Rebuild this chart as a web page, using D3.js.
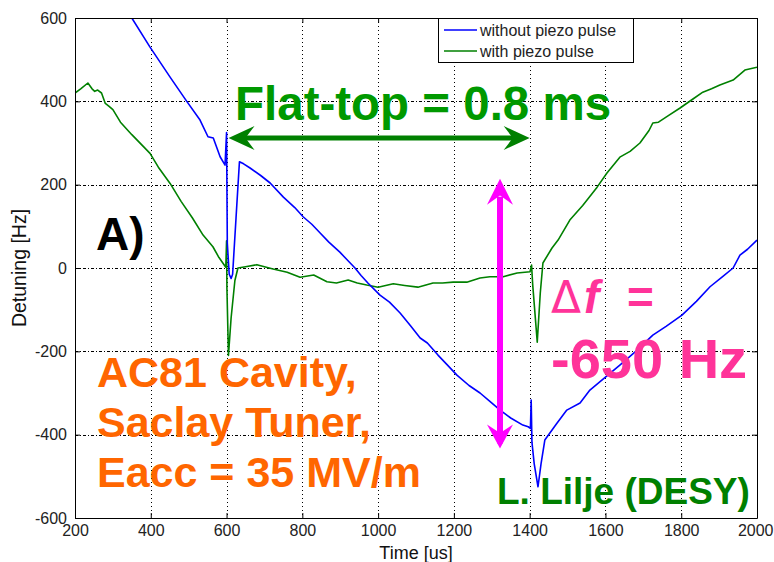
<!DOCTYPE html>
<html>
<head>
<meta charset="utf-8">
<script src="https://cdn.jsdelivr.net/npm/d3@7"></script>
<style>
  html, body { margin: 0; padding: 0; background: #fff; }
  svg { display: block; font-family: "Liberation Sans", Arial, sans-serif; }
</style>
</head>
<body>
<svg id="chart" width="774" height="562"></svg>
<script>
// Detuning traces during the RF pulse, time in microseconds, detuning in Hz
const timeWithout = [320, 350, 398, 451, 495, 530, 551, 565, 583, 596, 600, 602, 607, 612, 616, 625, 634, 645, 662, 690, 715, 750, 780, 802, 825, 847, 870, 899, 920, 939, 955, 973, 1005, 1030, 1058, 1085, 1111, 1130, 1158, 1180, 1208, 1240, 1269, 1295, 1322, 1350, 1382, 1396, 1402, 1404, 1406, 1412, 1422, 1430, 1440, 1470, 1498, 1533, 1559, 1600, 1638, 1680, 1725, 1760, 1802, 1840, 1876, 1910, 1937, 1955, 1975, 2000];
const detuningWithout = [645, 600, 530, 458, 400, 355, 315, 312, 267, 247, 325, 60, -15, -25, -15, 120, 255, 250, 240, 222, 204, 170, 145, 123, 105, 84, 62, 38, 18, 0, -18, -36, -65, -82, -108, -138, -168, -180, -209, -230, -257, -282, -300, -320, -341, -360, -377, -381, -385, -317, -418, -470, -525, -470, -413, -375, -341, -324, -293, -262, -233, -200, -161, -140, -113, -80, -45, -20, 0, 31, 45, 67];

const timeWith = [200, 215, 234, 245, 252, 260, 270, 280, 290, 300, 320, 350, 398, 420, 451, 480, 510, 538, 564, 580, 598, 600, 601, 605, 612, 622, 630, 650, 680, 720, 760, 794, 830, 865, 890, 921, 945, 970, 1000, 1020, 1040, 1070, 1105, 1145, 1170, 1198, 1234, 1269, 1295, 1330, 1367, 1401, 1405, 1408, 1420, 1428, 1435, 1459, 1475, 1506, 1540, 1578, 1604, 1638, 1665, 1691, 1715, 1725, 1740, 1765, 1797, 1830, 1857, 1880, 1902, 1937, 1968, 2000];
const detuningWith = [420, 430, 444, 430, 424, 427, 420, 395, 388, 380, 350, 320, 275, 242, 203, 160, 120, 79, 51, 25, 2, 65, -50, -210, -120, -30, 0, 3, 8, -2, -10, -22, -17, -33, -36, -29, -36, -41, -46, -42, -38, -42, -46, -36, -36, -34, -34, -24, -21, -21, -12, -9, 7, -40, -178, -60, 12, 48, 67, 115, 150, 194, 228, 266, 280, 300, 330, 348, 350, 365, 384, 405, 422, 430, 439, 451, 475, 482];

const xTicks = [200, 400, 600, 800, 1000, 1200, 1400, 1600, 1800, 2000];
const yTicks = [-600, -400, -200, 0, 200, 400, 600];
const seriesNames = ["without piezo pulse", "with piezo pulse"];
const seriesColors = ["#0000ff", "#008000"];

// Annotation values
const flatTop = [600, 1400];          // flat-top window, us
const deltaSpan = [200, -450];        // extent of the detuning arrow, Hz

const svg = d3.select("#chart");
const pLeft = 75, pRight = 757, pTop = 18, pBottom = 518;

const x = d3.scaleLinear().domain([200, 2000]).range([pLeft, pRight]);
const y = d3.scaleLinear().domain([-600, 600]).range([pBottom, pTop]);
const plain = d => String(d);   // plain integers with an ASCII hyphen

// Grid
const grid = svg.append("g").attr("stroke", "#000").attr("stroke-width", 1);
xTicks.slice(1, -1).forEach(t => {
  grid.append("line")
    .attr("x1", Math.round(x(t)) + 0.5).attr("x2", Math.round(x(t)) + 0.5)
    .attr("y1", pTop).attr("y2", pBottom)
    .attr("stroke-dasharray", "1,3");
});
yTicks.slice(1, -1).forEach(v => {
  grid.append("line")
    .attr("x1", pLeft).attr("x2", pRight)
    .attr("y1", Math.round(y(v)) + 0.5).attr("y2", Math.round(y(v)) + 0.5)
    .attr("stroke-dasharray", "3,2,1,2");
});

// Clip region for the traces
svg.append("clipPath").attr("id", "plotClip")
  .append("rect").attr("x", pLeft).attr("y", pTop).attr("width", pRight - pLeft).attr("height", pBottom - pTop);

const line = d3.line().x(d => x(d[0])).y(d => y(d[1]));
const traces = svg.append("g").attr("clip-path", "url(#plotClip)");
traces.append("path")
  .datum(timeWith.map((t, i) => [t, detuningWith[i]]))
  .attr("d", line).attr("fill", "none").attr("stroke", seriesColors[1]).attr("stroke-width", 1.6)
  .attr("stroke-linejoin", "round");
traces.append("path")
  .datum(timeWithout.map((t, i) => [t, detuningWithout[i]]))
  .attr("d", line).attr("fill", "none").attr("stroke", seriesColors[0]).attr("stroke-width", 1.6)
  .attr("stroke-linejoin", "round");

// Axes box with inward ticks
const xBottom = d3.axisBottom(x).tickValues(xTicks).tickFormat(plain).tickSizeInner(-5).tickSizeOuter(0).tickPadding(7);
const yLeft = d3.axisLeft(y).tickValues(yTicks).tickFormat(plain).tickSizeInner(-5).tickSizeOuter(0).tickPadding(8);
const xTop = d3.axisTop(x).tickValues(xTicks).tickSizeInner(-5).tickSizeOuter(0).tickFormat("");
const yRight = d3.axisRight(y).tickValues(yTicks).tickSizeInner(-5).tickSizeOuter(0).tickFormat("");

function styleAxis(g) {
  g.selectAll("path").attr("stroke", "#000");
  g.selectAll("line").attr("stroke", "#000");
  g.selectAll("text").attr("fill", "#222").style("font-size", "16px")
    .style("font-family", "'Liberation Sans', Arial, sans-serif");
}
const gx = svg.append("g").attr("transform", `translate(0,${pBottom})`).call(xBottom).call(styleAxis);
// keep the last label inside the page edge
gx.selectAll(".tick").filter(d => d === xTicks[xTicks.length - 1]).select("text")
  .attr("text-anchor", "end").attr("x", 773 - pRight);
svg.append("g").attr("transform", `translate(${pLeft},0)`).call(yLeft).call(styleAxis);
svg.append("g").attr("transform", `translate(0,${pTop})`).call(xTop).call(styleAxis);
svg.append("g").attr("transform", `translate(${pRight},0)`).call(yRight).call(styleAxis);

// Axis titles
svg.append("text").attr("x", (pLeft + pRight) / 2).attr("y", 559).attr("text-anchor", "middle")
  .style("font-size", "18px").attr("fill", "#111").text("Time [us]");
svg.append("text").attr("transform", `translate(26,${(pTop + pBottom) / 2}) rotate(-90)`)
  .attr("text-anchor", "middle").style("font-size", "19.5px").attr("fill", "#111").text("Detuning [Hz]");

// Legend
const legend = svg.append("g");
legend.append("rect").attr("x", 438.5).attr("y", 18.5).attr("width", 195).attr("height", 44)
  .attr("fill", "#fff").attr("stroke", "#000");
seriesNames.forEach((name, i) => {
  const ly = 30 + i * 21;
  legend.append("line").attr("x1", 444).attr("x2", 477).attr("y1", ly).attr("y2", ly)
    .attr("stroke", seriesColors[i]).attr("stroke-width", 1.6);
  legend.append("text").attr("x", 480).attr("y", ly + 6).style("font-size", "16px")
    .attr("fill", "#222").text(name);
});

// Arrow helper: filled triangular heads on a thick shaft
function arrowHead(g, tipX, tipY, dirX, dirY, len, halfW, color) {
  const bx = tipX - dirX * len, by = tipY - dirY * len;
  const px = -dirY, py = dirX;
  const notch = len * 0.35;
  const nx = tipX - dirX * (len - notch), ny = tipY - dirY * (len - notch);
  g.append("path")
    .attr("d", `M${tipX},${tipY} L${bx + px * halfW},${by + py * halfW} L${nx},${ny} L${bx - px * halfW},${by - py * halfW} Z`)
    .attr("fill", color);
}

// Flat-top double arrow
const ann = svg.append("g");
const fy = 138;
ann.append("line").attr("x1", x(flatTop[0]) + 10).attr("x2", x(flatTop[1]) - 10)
  .attr("y1", fy).attr("y2", fy).attr("stroke", "#008000").attr("stroke-width", 5);
arrowHead(ann, x(flatTop[0]) + 2, fy, -1, 0, 26, 12, "#008000");
arrowHead(ann, x(flatTop[1]), fy, 1, 0, 26, 12, "#008000");

// Detuning span double arrow
const ax = 500;
ann.append("line").attr("x1", ax).attr("x2", ax)
  .attr("y1", y(deltaSpan[0]) + 12).attr("y2", y(deltaSpan[1]) - 12)
  .attr("stroke", "#ff00ff").attr("stroke-width", 6);
arrowHead(ann, ax, y(deltaSpan[0]) - 6, 0, -1, 26, 13, "#ff00ff");
arrowHead(ann, ax, y(deltaSpan[1]) - 7, 0, 1, 24, 13, "#ff00ff");

// Text annotations
ann.append("text").attr("x", 235).attr("y", 120).style("font-size", "47.5px").style("font-weight", "bold")
  .attr("fill", "#009900").text("Flat-top = 0.8 ms");
ann.append("text").attr("x", 96).attr("y", 250).style("font-size", "46px").style("font-weight", "bold")
  .attr("fill", "#000").text("A)");
["AC81 Cavity,", "Saclay Tuner,", "Eacc = 35 MV/m"].forEach((s, i) => {
  ann.append("text").attr("x", 97).attr("y", 387 + i * 50).style("font-size", "43px")
    .style("font-weight", "bold").attr("fill", "#ff6600").text(s);
});
ann.append("text").attr("x", 551).attr("y", 313).style("font-size", "44px")
  .style("font-family", "'DejaVu Sans', sans-serif").attr("fill", "#ff3399").text("Δ");
ann.append("text").attr("x", 584).attr("y", 313).style("font-size", "46px")
  .style("font-weight", "bold").style("font-style", "italic").attr("fill", "#ff3399").text("f");
ann.append("text").attr("x", 627).attr("y", 313).style("font-size", "46px")
  .style("font-weight", "bold").attr("fill", "#ff3399").text("=");
ann.append("text").attr("x", 551).attr("y", 378).style("font-size", "56px").style("font-weight", "bold")
  .attr("fill", "#ff3399").text("-650 Hz");
ann.append("text").attr("x", 497).attr("y", 504).style("font-size", "37px").style("font-weight", "bold")
  .attr("fill", "#008000").text("L. Lilje (DESY)");
</script>
</body>
</html>
